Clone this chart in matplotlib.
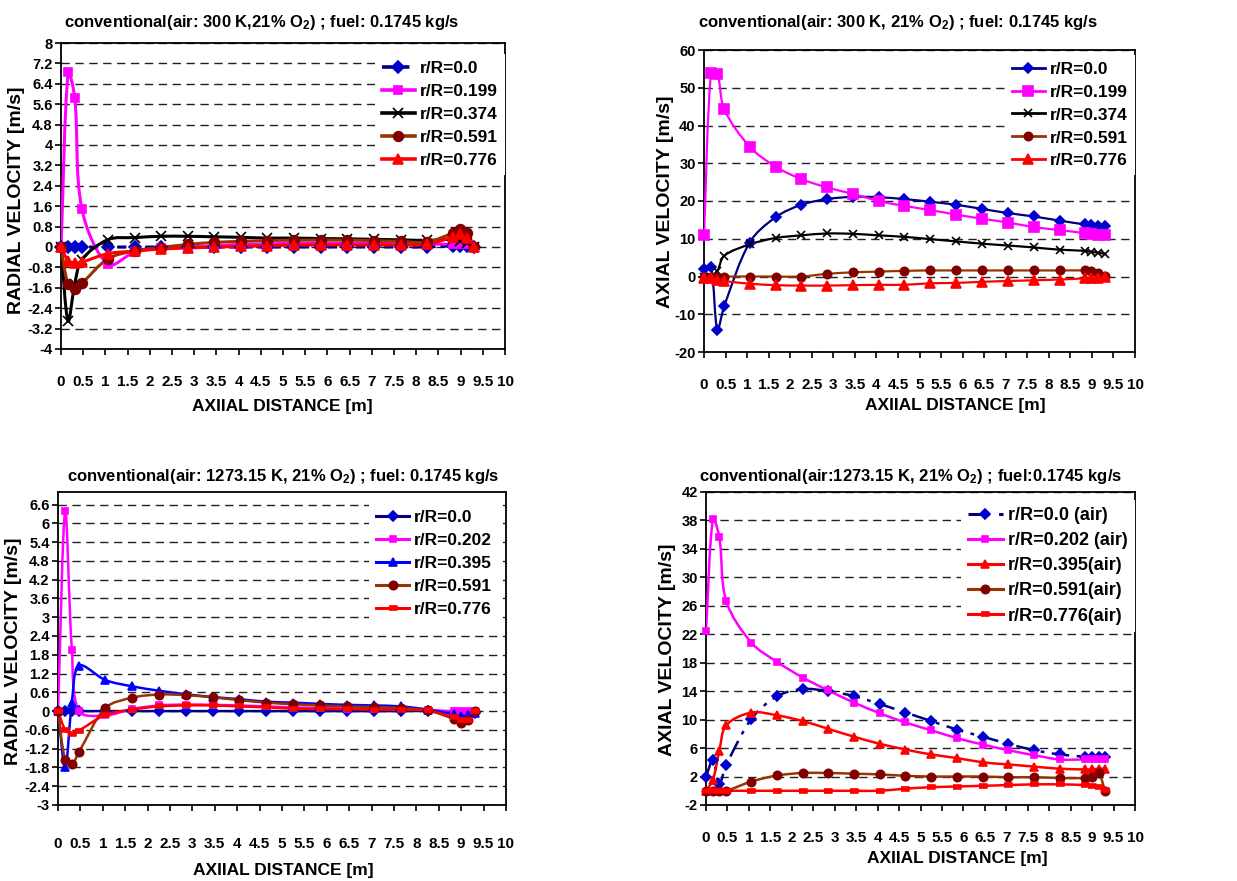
import numpy as np
import matplotlib
matplotlib.use('Agg')
import matplotlib.pyplot as plt
from matplotlib.path import Path
from matplotlib.patches import PathPatch
from matplotlib.lines import Line2D
from matplotlib import font_manager

names = {f.name for f in font_manager.fontManager.ttflist}
NARROW = 'Liberation Sans Narrow' if 'Liberation Sans Narrow' in names else 'Liberation Sans'
plt.rcParams['font.family'] = [NARROW, 'DejaVu Sans']
plt.rcParams['font.weight'] = 'bold'
plt.rcParams['mathtext.default'] = 'regular'

W, H = 1237, 881

# axial stations [m], same for every profile
x = [0, 0.16, 0.31, 0.47, 1.06, 1.66, 2.26, 2.85, 3.45, 4.05, 4.65,
     5.25, 5.85, 6.45, 7.05, 7.65, 8.25, 8.83, 8.99, 9.15, 9.3]

# --- radial velocity, air 300 K
rad300_00 = [0, 0, 0, 0, 0, 0, 0, 0, 0, 0, 0, 0, 0, 0, 0, 0, 0, 0.05, 0.05, 0.05, 0]
rad300_199 = [0, 6.85, 5.85, 1.5, -0.68, -0.2, -0.05, 0.0, 0.05, 0.1, 0.12,
              0.15, 0.15, 0.15, 0.15, 0.12, 0.12, 0.1, 0.1, 0.1, 0]
rad300_374 = [0, -2.9, -1.45, -0.5, 0.29, 0.37, 0.42, 0.42, 0.4, 0.38, 0.35,
              0.35, 0.33, 0.32, 0.3, 0.28, 0.26, 0.3, 0.25, 0.15, 0]
rad300_591 = [0, -1.47, -1.64, -1.42, -0.46, -0.15, -0.02, 0.1, 0.18, 0.22, 0.25,
              0.27, 0.27, 0.27, 0.25, 0.22, 0.2, 0.55, 0.7, 0.55, 0]
rad300_776 = [0, -0.53, -0.63, -0.59, -0.26, -0.16, -0.08, -0.04, 0, 0.02, 0.05,
              0.07, 0.08, 0.08, 0.08, 0.08, 0.1, 0.4, 0.5, 0.35, 0]

# --- axial velocity, air 300 K
ax300_00 = [1.9, 2.6, -14.1, -7.8, 9.0, 15.7, 19.0, 20.5, 21.1, 21.0, 20.5,
            19.8, 19.0, 17.9, 16.8, 15.9, 14.8, 13.8, 13.6, 13.5, 13.3]
ax300_199 = [10.9, 53.8, 53.6, 44.3, 34.4, 29.1, 25.8, 23.6, 21.9, 20.0, 18.7,
             17.6, 16.4, 15.3, 14.3, 13.1, 12.3, 11.5, 11.3, 11.1, 10.9]
ax300_374 = [0, 0, 1.5, 5.5, 8.5, 10.2, 10.9, 11.4, 11.3, 10.9, 10.5,
             9.9, 9.3, 8.7, 8.2, 7.7, 7.1, 6.8, 6.5, 6.3, 6.0]
ax300_591 = [0, 0, 0, 0, 0, 0, 0, 0.7, 1.1, 1.3, 1.5,
             1.6, 1.6, 1.6, 1.6, 1.6, 1.6, 1.6, 1.4, 1.0, 0.2]
ax300_776 = [-0.3, -0.4, -0.8, -1.2, -1.9, -2.3, -2.4, -2.4, -2.3, -2.2, -2.2,
             -1.8, -1.7, -1.4, -1.2, -1.0, -0.8, -0.5, -0.4, -0.3, -0.2]

# --- radial velocity, air 1273.15 K
rad1273_00 = [0, 0, 0, 0, 0, 0, 0, 0, 0, 0, 0, 0, 0, 0, 0, 0, 0, -0.05, -0.1, -0.1, -0.05]
rad1273_202 = [0, 6.38, 1.94, 0.0, -0.14, 0.07, 0.18, 0.21, 0.2, 0.18, 0.15,
               0.12, 0.1, 0.08, 0.07, 0.06, 0.03, 0.0, 0.0, 0.0, 0.0]
rad1273_395 = [0, -1.8, 0.27, 1.45, 0.99, 0.79, 0.65, 0.54, 0.45, 0.38, 0.3,
               0.27, 0.23, 0.2, 0.18, 0.15, 0.05, -0.1, -0.15, -0.12, -0.05]
rad1273_591 = [0, -1.55, -1.7, -1.3, 0.1, 0.43, 0.53, 0.51, 0.44, 0.35, 0.27,
               0.22, 0.18, 0.15, 0.13, 0.1, 0.02, -0.25, -0.38, -0.28, 0]
rad1273_776 = [0, -0.59, -0.73, -0.62, -0.12, 0.05, 0.15, 0.18, 0.18, 0.15, 0.12,
               0.08, 0.07, 0.06, 0.05, 0.04, 0.02, -0.2, -0.3, -0.28, 0]

# --- axial velocity, air 1273.15 K
ax1273_00 = [2.0, 4.3, 1.0, 3.6, 10.1, 13.3, 14.3, 14.0, 13.3, 12.2, 11.0,
             9.8, 8.6, 7.6, 6.6, 5.7, 5.1, 4.8, 4.8, 4.8, 4.8]
ax1273_202 = [22.5, 38.2, 35.7, 26.7, 20.8, 18.1, 15.9, 14.1, 12.4, 10.9, 9.6,
              8.5, 7.4, 6.5, 5.7, 5.0, 4.4, 4.4, 4.4, 4.4, 4.4]
ax1273_395 = [0, 1.5, 5.6, 9.2, 11.0, 10.6, 9.8, 8.7, 7.6, 6.6, 5.8,
              5.1, 4.6, 4.0, 3.7, 3.4, 3.1, 3.0, 3.0, 3.1, 3.1]
ax1273_591 = [0, 0, 0, 0, 1.3, 2.15, 2.5, 2.5, 2.4, 2.3, 2.1,
              2.0, 2.0, 2.0, 1.9, 1.9, 1.8, 1.8, 2.0, 2.5, 0]
ax1273_776 = [0, 0, 0, 0, 0, 0, 0, 0, 0, 0, 0.3,
              0.5, 0.6, 0.7, 0.8, 0.9, 0.9, 0.8, 0.7, 0.5, 0.1]

NAVY, MAG, BRN, BRNM, RED, BLUE = '#000080', '#FF00FF', '#993300', '#800000', '#FF0000', '#0000FF'
RECT = [(-1, -0.4), (1, -0.4), (1, 0.4), (-1, 0.4)]


def smooth_path(xs, ys, sx, sy):
    # smoothed line as cubic bezier segments, tangents split by chord length (screen space)
    p = np.column_stack([xs, ys]).astype(float)
    s = np.array([sx, sy])
    n = len(p)
    cin, cout = [None] * n, [None] * n
    for i in range(n):
        a = p[i - 1] if i > 0 else p[i]
        b = p[i + 1] if i < n - 1 else p[i]
        dp = np.hypot(*((p[i] - a) * s))
        dn = np.hypot(*((b - p[i]) * s))
        tot = dp + dn if dp + dn > 0 else 1
        t = b - a
        cout[i] = p[i] + t * dn / (3 * tot)
        cin[i] = p[i] - t * dp / (3 * tot)
    verts, codes = [p[0]], [Path.MOVETO]
    for i in range(n - 1):
        verts += [cout[i], cin[i + 1], p[i + 1]]
        codes += [Path.CURVE4] * 3
    return Path(verts, codes)


def box(l, t, r, b):
    return [l / W, 1 - b / H, (r - l) / W, (b - t) / H]


def draw(ax, series, ylim, ystep, lw, leg_anchor, leg_fs=12.5, xpad=12, ytop=None):
    bb = ax.get_position()
    sx = bb.width * W / 10.0
    sy = bb.height * H / (ylim[1] - ylim[0])
    handles = []
    for ys, lab, lc, ls, mk, mfc, ms in series:
        ax.add_patch(PathPatch(smooth_path(x, ys, sx, sy), fill=False, edgecolor=lc, lw=lw,
                               linestyle=ls, joinstyle='round', capstyle='butt', zorder=3))
        mec = lc if mk == 'x' else mfc
        ax.plot(x, ys, ls='none', marker=mk, ms=ms, mfc=mfc, mec=mec, mew=1.2,
                zorder=4, clip_on=False)
        handles.append(Line2D([], [], color=lc, lw=lw + 0.4, ls=ls, marker=mk, ms=ms,
                              mfc=mfc, mec=mec, mew=1.2))
    ax.set_xlim(0, 10)
    ax.set_ylim(*ylim)
    xt = np.arange(0, 10.01, 0.5)
    ax.set_xticks(xt)
    ax.set_xticklabels(['{:g}'.format(v) for v in xt])
    top = ylim[1] if ytop is None else ytop
    yt = np.round(np.arange(ylim[0], top + 1e-6, ystep), 2) + 0.0
    ax.set_yticks(yt)
    ax.set_yticklabels(['{:g}'.format(v) if abs(v) > 1e-9 else '0' for v in yt])
    ax.tick_params(axis='x', direction='out', length=4, width=1.2, pad=xpad, labelsize=11)
    ax.tick_params(axis='y', direction='out', length=4, width=1.2, pad=2, labelsize=10.5)
    for sp in ax.spines.values():
        sp.set_linewidth(1.3)
    ax.set_axisbelow(True)
    ax.yaxis.grid(True, color='#202020', lw=1, linestyle=(0, (6, 4)))
    leg = ax.legend(handles=handles, labels=[s[1] for s in series],
                    loc='upper right', bbox_to_anchor=leg_anchor, borderaxespad=0,
                    frameon=True, fancybox=False, edgecolor='none', facecolor='white',
                    framealpha=1, fontsize=leg_fs, handlelength=1.9, handletextpad=0.3,
                    labelspacing=0.45, borderpad=0.4)
    leg.set_zorder(5)


fig = plt.figure(figsize=(W / 100, H / 100), dpi=100)

a1 = fig.add_axes(box(61, 43, 505, 349))
draw(a1, [
    (rad300_00, 'r/R=0.0', NAVY, (0, (3, 1.6)), 'D', '#0000CC', 6),
    (rad300_199, 'r/R=0.199', MAG, '-', 's', MAG, 6),
    (rad300_374, 'r/R=0.374', 'black', '-', 'x', 'black', 7),
    (rad300_591, 'r/R=0.591', BRN, '-', 'o', BRNM, 7),
    (rad300_776, 'r/R=0.776', RED, '-', '^', RED, 7),
], (-4, 8), 0.8, 2.2, (1.0, 0.965), xpad=15)

a2 = fig.add_axes(box(704, 50, 1135, 352))
draw(a2, [
    (ax300_00, 'r/R=0.0', NAVY, '-', 'D', '#0000CC', 5.5),
    (ax300_199, 'r/R=0.199', MAG, '-', 's', MAG, 6.5),
    (ax300_374, 'r/R=0.374', 'black', '-', 'x', 'black', 6),
    (ax300_591, 'r/R=0.591', BRN, '-', 'o', BRNM, 6),
    (ax300_776, 'r/R=0.776', RED, '-', '^', RED, 6.5),
], (-20, 60), 10, 1.6, (1.0, 0.985), xpad=15)

a3 = fig.add_axes(box(58, 492, 506, 805))
draw(a3, [
    (rad1273_00, 'r/R=0.0', NAVY, '-', 'D', '#0000CC', 5),
    (rad1273_202, 'r/R=0.202', MAG, '-', 's', MAG, 5),
    (rad1273_395, 'r/R=0.395', BLUE, '-', '^', BLUE, 6),
    (rad1273_591, 'r/R=0.591', BRN, '-', 'o', BRNM, 6),
    (rad1273_776, 'r/R=0.776', RED, '-', RECT, RED, 6),
], (-3, 7.0), 0.6, 1.8, (0.985, 0.965), xpad=19, ytop=6.6)

a4 = fig.add_axes(box(706, 492, 1135, 805))
draw(a4, [
    (ax1273_00, 'r/R=0.0 (air)', NAVY, (0, (7, 3, 1.5, 3)), 'D', '#0000CC', 5),
    (ax1273_202, 'r/R=0.202 (air)', MAG, '-', 's', MAG, 5),
    (ax1273_395, 'r/R=0.395(air)', RED, '-', '^', RED, 6),
    (ax1273_591, 'r/R=0.591(air)', BRN, '-', 'o', BRNM, 6),
    (ax1273_776, 'r/R=0.776(air)', RED, '-', RECT, RED, 6),
], (-2, 42), 4, 1.8, (1.0, 0.975), leg_fs=13, xpad=15)


def ftext(px, py, s, **kw):
    fig.text(px / W, 1 - py / H, s, ha='center', va='center', **kw)


ftext(262, 22, 'conventional(air: 300 K,21% O$_2$) ; fuel: 0.1745 kg/s', fontsize=12)
ftext(898, 22, 'conventional(air: 300 K, 21% O$_2$) ; fuel: 0.1745 kg/s', fontsize=12)
ftext(283, 477, 'conventional(air: 1273.15 K, 21% O$_2$) ; fuel: 0.1745 kg/s', fontsize=12)
ftext(911, 477, 'conventional(air:1273.15 K, 21% O$_2$) ; fuel:0.1745 kg/s', fontsize=12)

ftext(282, 407, 'AXIIAL DISTANCE [m]', fontsize=12.5)
ftext(955, 406, 'AXIIAL DISTANCE [m]', fontsize=12.5)
ftext(283, 870, 'AXIIAL DISTANCE [m]', fontsize=12.5)
ftext(957, 858, 'AXIIAL DISTANCE [m]', fontsize=12.5)

ylab = dict(fontsize=14, rotation=90, family=['Liberation Sans', 'DejaVu Sans'])
ftext(17, 200, 'RADIAL VELOCITY [m/s]', **ylab)
ftext(666, 202, 'AXIAL VELOCITY [m/s]', **ylab)
ftext(14, 651, 'RADIAL VELOCITY [m/s]', **ylab)
ftext(668, 650, 'AXIAL VELOCITY [m/s]', **ylab)

fig.savefig('out.png', dpi=100)
